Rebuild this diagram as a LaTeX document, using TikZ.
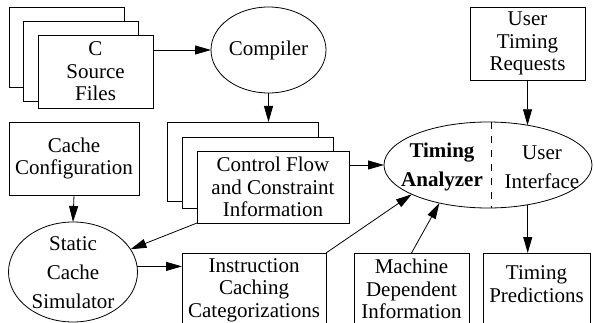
\documentclass[tikz,border=0pt]{standalone}
\usepackage{fontspec}
\setmainfont{LiberationSerif}[Extension=.ttf, UprightFont=*-Regular, BoldFont=*-Bold]
\usetikzlibrary{shapes.geometric,arrows.meta}
\begin{document}
\begin{tikzpicture}[x=1pt,y=-1pt,
  every node/.style={font=\fontsize{21}{22.5}\selectfont, align=center, inner sep=0pt, outer sep=0pt},
  box/.style={draw, fill=white, line width=0.8pt, anchor=north west},
  ell/.style={draw, fill=white, ellipse, line width=0.8pt},
  txt/.style={font=\fontsize{21}{29}\selectfont},
  arr/.style={-{Triangle[length=16pt,width=9pt]}, line width=0.8pt},
  dsh/.style={line width=0.8pt, dash pattern=on 7pt off 7pt}]
\useasboundingbox (0,0) rectangle (594,323);
% C source files stack
\node[box, minimum width=115, minimum height=80] (csfc) at (9,7) {};
\node[box, minimum width=115, minimum height=80] (csfb) at (23,21) {};
\node[box, minimum width=115, minimum height=73] (csf) at (38,35) {C\\Source\\Files};
% Compiler
\node[ell, minimum width=115, minimum height=86] (comp) at (268.5,50) {Compiler};
% User timing requests
\node[box, minimum width=115, minimum height=73] (utr) at (470,7) {User\\Timing\\Requests};
% Cache configuration
\node[box, minimum width=130, minimum height=73] (cc) at (9,122) {Cache\\Configuration};
% Control flow stack
\node[box, minimum width=151, minimum height=79] (cfc) at (167,122) {};
\node[box, minimum width=151, minimum height=71] (cfb) at (182,137) {};
\node[box, minimum width=152, minimum height=72] (cf) at (197,151) {Control Flow\\and Constraint\\Information};
% Static cache simulator
\node[ell, minimum width=129, minimum height=100] (scs) at (73,272) {};
\node[txt] (scst) at (73,273) {Static\\Cache\\Simulator};
% Timing analyzer
\node[ell, minimum width=208, minimum height=86] (ta) at (488,165) {};
\node[txt, font=\fontsize{21}{29}\selectfont\bfseries] (tat) at (442,167) {Timing\\Analyzer};
\node[txt] (uit) at (542,167) {User\\Interface};
\draw[dsh] ([xshift=3pt]ta.north) -- ([xshift=3pt]ta.south);
% Bottom boxes
\node[box, minimum width=144, minimum height=74] (icc) at (182,253) {Instruction\\Caching\\Categorizations};
\node[box, minimum width=115, minimum height=72] (mdi) at (354,253) {Machine\\Dependent\\Information};
\node[box, minimum width=107, minimum height=80] (tp) at (483,253) {};
\node (tpt) at (536.5,284) {Timing\\Predictions};
% Connectors
\draw[arr] (csf.east |- comp.west) -- (comp.west);
\draw[arr] (comp.south) -- (comp.south |- cfc.north);
\draw[arr] (cc.south) -- (scs.north);
\draw[arr] (cf.south west) -- (scs);
\draw[arr] (scs.5) -- (scs.5 -| icc.west);
\draw[arr] (icc.north east) -- (ta.201.5);
\draw[arr] (mdi.north) -- (ta.218);
\draw[arr] (ta.west -| cf.east) -- (ta.west);
\draw[arr] (utr.south) -- (utr.south |- ta.45);
\draw[arr] (ta.-45) -- (ta.-45 |- tp.north);
\end{tikzpicture}
\end{document}
